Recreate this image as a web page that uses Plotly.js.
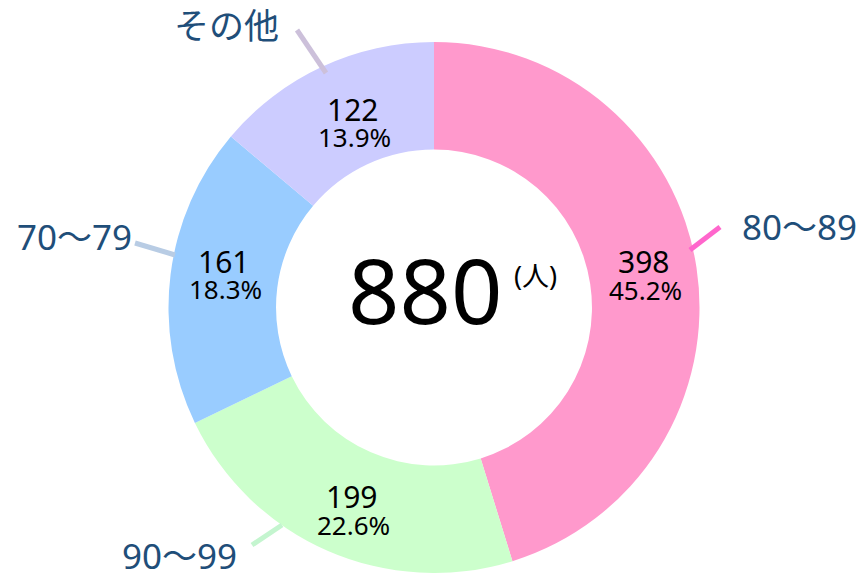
<!DOCTYPE html>
<html>
<head>
<meta charset="utf-8">
<script src="https://cdn.plot.ly/plotly-3.0.1.min.js"></script>
<style>html,body{margin:0;padding:0;background:#fff;}#chart{width:862px;height:573px;}</style>
</head>
<body>
<div id="chart"></div>
<script>
// ---- data ----
const categories = ['80〜89', '90〜99', '70〜79', 'その他'];
const values = [398, 199, 161, 122];
const totalLabel = '880';
const unitLabel = '(人)';

// ---- styles ----
const sliceColors = ['#FF99CC', '#CCFFCC', '#99CCFF', '#CCCCFF'];
const leaderColors = ['#FF66CC', '#C4F5CF', '#B8CCE4', '#CCC0DA'];
const W = 862, H = 573;
const FONT = 'Noto Sans, Noto Sans CJK JP, sans-serif';
const labelColor = '#1F4E79';

// geometry of the donut (pixels)
const CX = 434, CY = 307.5, R = 265.5, HOLE = 0.595;
const TEXT_R = 212;
// small nudges of the inside label blocks (pixels)
const insideNudge = [[0, 0], [2, 9], [0, -6], [8, 8]];

// outside label layout (pixel positions of label centres and leader lines)
const outside = [
  {lx: 799, ly: 226, line: [[690, 250], [720, 227]]},
  {lx: 179, ly: 555, line: [[282, 525], [252, 545]]},
  {lx: 74,  ly: 236, line: [[175, 255], [135, 243]]},
  {lx: 227, ly: 25,  line: [[326, 73], [297, 30]]}
];
const px = x => x / W;
const py = y => (H - y) / H;

const trace = {
  type: 'pie',
  labels: categories,
  values: values,
  sort: false,
  direction: 'clockwise',
  rotation: 0,
  hole: HOLE,
  marker: {colors: sliceColors, line: {width: 0}},
  textinfo: 'none',
  domain: {x: [(CX - R) / W, (CX + R) / W], y: [0, (2 * R) / H]},
  showlegend: false,
  hoverinfo: 'label+value+percent'
};

const annotations = [
  {text: totalLabel, x: px(425), y: py(289), xref: 'paper', yref: 'paper', showarrow: false,
   font: {family: FONT, size: 90, color: '#000'}, xanchor: 'center', yanchor: 'middle'},
  {text: unitLabel, x: px(535), y: py(275), xref: 'paper', yref: 'paper', showarrow: false,
   font: {family: FONT, size: 27, color: '#000'}, xanchor: 'center', yanchor: 'middle'}
];
const shapes = [];
const total = values.reduce((a, b) => a + b, 0);
let cum = 0;
categories.forEach((c, i) => {
  // inside value / percent labels at the slice's mid angle
  const mid = (cum + values[i] / 2) / total * 2 * Math.PI;
  cum += values[i];
  const tx = CX + TEXT_R * Math.sin(mid) + insideNudge[i][0];
  const ty = CY - TEXT_R * Math.cos(mid) + insideNudge[i][1];
  annotations.push({text: String(values[i]), x: px(tx), y: py(ty - 14), xref: 'paper', yref: 'paper',
    showarrow: false, height: 27, font: {family: FONT, size: 30, color: '#000'},
    xanchor: 'center', yanchor: 'middle'});
  annotations.push({text: (values[i] / total * 100).toFixed(1) + '%', x: px(tx + 2), y: py(ty + 14),
    xref: 'paper', yref: 'paper', showarrow: false, height: 26,
    font: {family: FONT, size: 26, color: '#000'}, xanchor: 'center', yanchor: 'middle'});

  const o = outside[i];
  annotations.push({text: c, x: px(o.lx), y: py(o.ly), xref: 'paper', yref: 'paper', showarrow: false,
    height: 36, font: {family: FONT, size: 35, color: labelColor}, xanchor: 'center', yanchor: 'middle'});
  shapes.push({type: 'line', xref: 'paper', yref: 'paper',
    x0: px(o.line[0][0]), y0: py(o.line[0][1]), x1: px(o.line[1][0]), y1: py(o.line[1][1]),
    line: {color: leaderColors[i], width: 5}});
});

const layout = {
  width: W, height: H,
  margin: {l: 0, r: 0, t: 0, b: 0},
  paper_bgcolor: '#fff',
  showlegend: false,
  annotations: annotations,
  shapes: shapes
};
Plotly.newPlot('chart', [trace], layout, {displayModeBar: false, staticPlot: true});
</script>
</body>
</html>
